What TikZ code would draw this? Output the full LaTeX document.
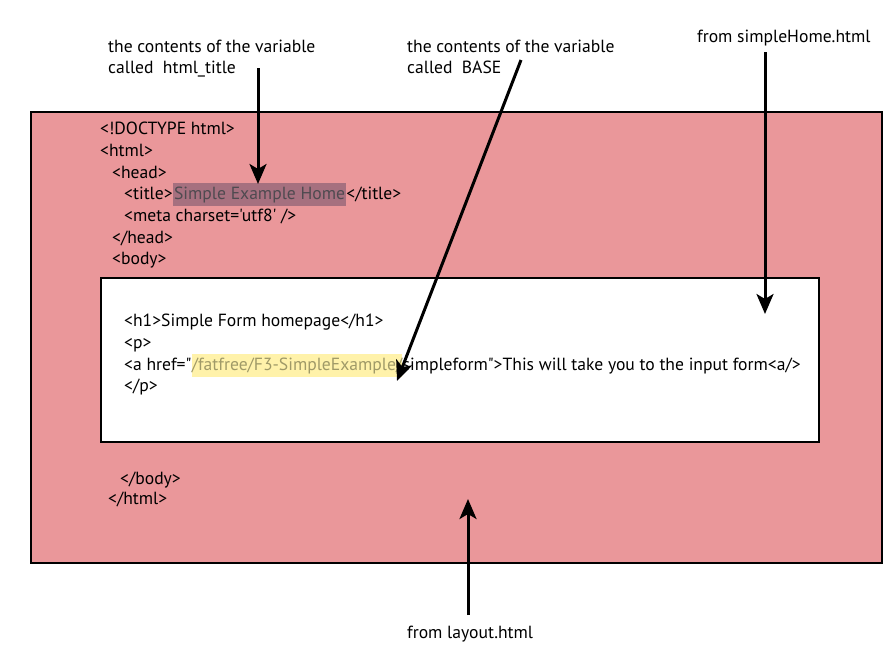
\documentclass[tikz,border=0pt]{standalone}
\usepackage{fontspec}
\setmainfont{PT Sans}[Ligatures=TeXOff]
\usetikzlibrary{arrows.meta}
\definecolor{pinkbg}{HTML}{EA979A}
\definecolor{titlehl}{HTML}{A6707F}
\definecolor{titletx}{HTML}{4F4A50}
\definecolor{basehl}{HTML}{FFF2AA}
\definecolor{basetx}{HTML}{A09A68}
\tikzset{
  code/.style={anchor=base west, inner sep=0pt, font=\fontsize{17.6}{20}\selectfont},
  lbl/.style={anchor=base west, inner sep=0pt, font=\fontsize{17.6}{20}\selectfont},
  arr/.style={line width=3pt, -{Stealth[length=20pt,width=17pt,inset=5pt]}},
  frame/.style={draw=black, line width=1.8pt}
}
\begin{document}
\begin{tikzpicture}[x=1pt,y=-1pt]
\useasboundingbox (0,0) rectangle (895,654);
\fill[white] (0,0) rectangle (895,654);
% outer and inner boxes
\node[frame, fill=pinkbg, minimum width=851pt, minimum height=451pt, anchor=north west, inner sep=0pt] (outer) at (30,111) {};
\node[frame, fill=white, minimum width=718pt, minimum height=164pt, anchor=north west, inner sep=0pt] (inner) at (100,277) {};
% code outside
\node[code] (l1) at (100,134) {<!DOCTYPE html>};
\node[code] (l2) at (100,156) {<html>};
\node[code] (l3) at (112,178) {<head>};
\node[code] (l4a) at (124,199) {<title>};
\node[code, fill=titlehl, text=titletx, inner ysep=3pt, inner xsep=1pt] (l4b) at (l4a.base east) {Simple Example Home};
\node[code] (l4c) at (l4b.base east) {</title>};
\node[code] (l5) at (124,221) {<meta charset='utf8' />};
\node[code] (l6) at (112,243) {</head>};
\node[code] (l7) at (112,264) {<body>};
% inner code
\node[code] (i1) at (124,326) {<h1>Simple Form homepage</h1>};
\node[code] (i2) at (124,348) {<p>};
\node[code] (i3a) at (124,370) {<a href="};
\node[code, fill=basehl, text=basetx, inner ysep=3.5pt, inner xsep=0pt] (i3b) at (i3a.base east) {/fatfree/F3-SimpleExample/};
\node[code] (i3c) at (i3b.base east) {simpleform">This will take you to the input form<a/>};
\node[code] (i4) at (124,391) {</p>};
\node[code] (e1) at (120,484) {</body>};
\node[code] (e2) at (108,504) {</html>};
% labels
\node[lbl] (t1a) at (108,52) {the contents of the variable};
\node[lbl] (t1b) at (108,73) {called\ \ html\_title};
\node[lbl] (t2a) at (407,52) {the contents of the variable};
\node[lbl] (t2b) at (407,73) {called\ \ BASE};
\node[lbl] (t3) at (697,42) {from simpleHome.html};
\node[lbl] (t4) at (407,638) {from layout.html};
% arrow endpoints
\coordinate (a1s) at (258,68);
\coordinate (a1e) at (258,184);
\coordinate (a2s) at (521,60);
\coordinate (a2e) at (397,381);
\coordinate (a3s) at (765,52);
\coordinate (a3e) at (765,314);
\coordinate (a4s) at (468,615);
\coordinate (a4e) at (468,499);
\draw[arr] (a1s) -- (a1e);
\draw[arr] (a2s) -- (a2e);
\draw[arr] (a3s) -- (a3e);
\draw[arr] (a4s) -- (a4e);
\end{tikzpicture}
\end{document}
